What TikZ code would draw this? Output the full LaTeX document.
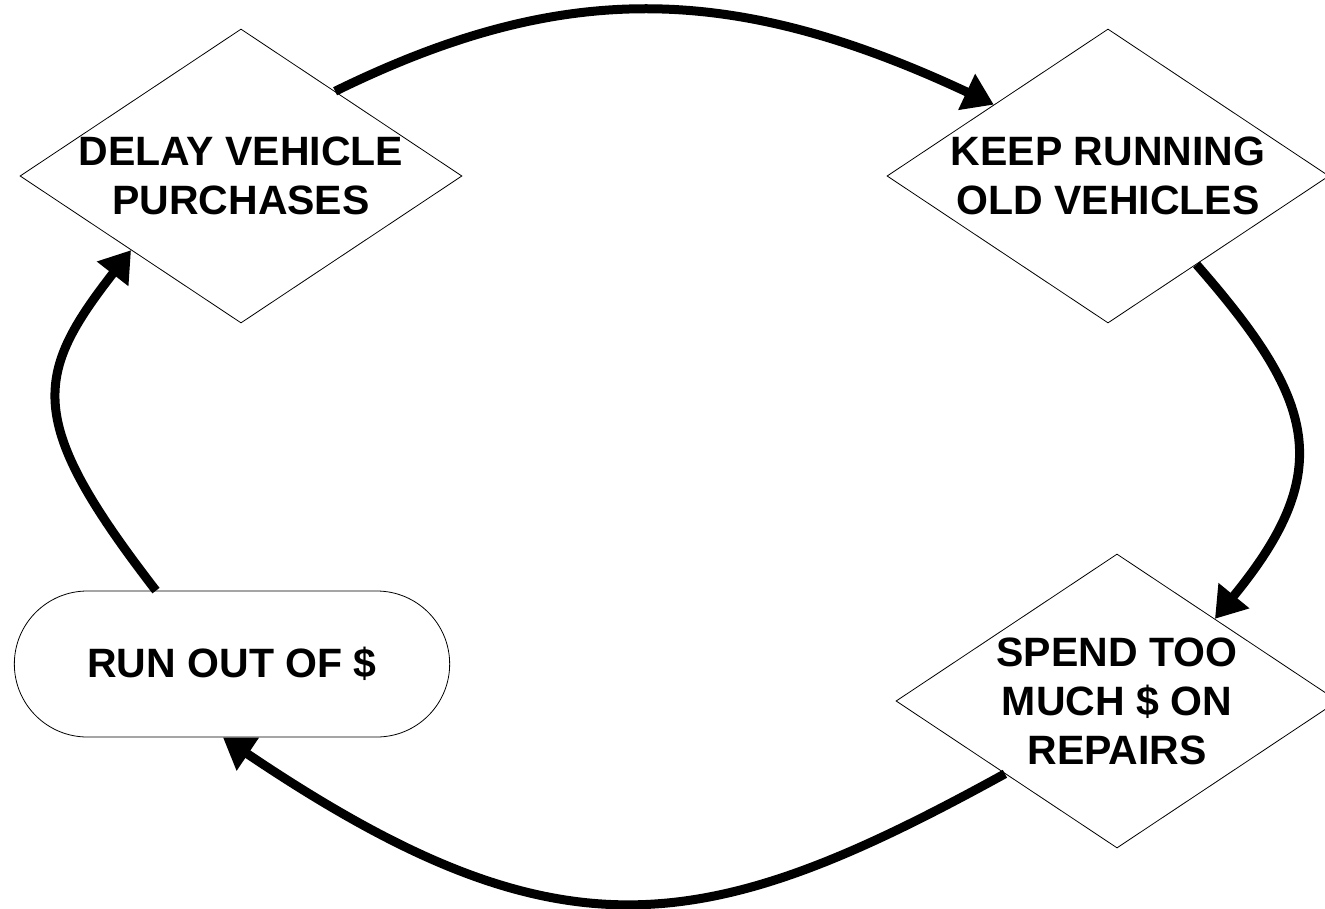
\documentclass[tikz,border=0pt]{standalone}
\usepackage{fontspec}
\setmainfont{Liberation Sans}
\usetikzlibrary{arrows.meta,shapes.geometric,shapes.misc}
\tikzset{
    %Define standard arrow tip
    >={Triangle[length=30pt,width=38pt]},
    %Define style for boxes
    decision/.style={
           diamond,
           draw=black, line width=0.8pt,
           minimum width=442pt,
           minimum height=294pt,
           inner sep=0pt},
    terminal/.style={
           rounded rectangle,
           draw=black, line width=0.8pt,
           minimum width=442pt,
           minimum height=146pt,
           font=\bfseries\fontsize{41}{49}\selectfont,
           text centered},
    caption/.style={
           font=\bfseries\fontsize{41}{49}\selectfont,
           align=center},
    % Define arrow style
    flow/.style={
           ->,
           line width=9pt}
}

\begin{document}
\begin{tikzpicture}[x=1pt,y=-1pt]
\useasboundingbox (0,0) rectangle (1325,908);
\node[decision, label={[caption]center:DELAY VEHICLE\\PURCHASES}] (delay) at (241,176) {};
\node[decision, label={[caption]center:KEEP RUNNING\\OLD VEHICLES}] (keep) at (1108,176) {};
\node[decision, label={[caption]center:SPEND TOO\\MUCH \$ ON\\REPAIRS}] (spend) at (1117,701) {};
\node[terminal] (runout) at (232,664) {RUN OUT OF \$};
\draw[flow] (delay.42) .. controls (560,-19) and (730,-19) .. (keep.148);
\draw[flow] (keep.-45) .. controls (1315,400) and (1337,470) .. (spend.40);
\draw[flow] (spend.213) .. controls (703,940) and (559,964) .. (runout.263);
\draw[flow] (runout.136) .. controls (25,421) and (33,376) .. (delay.214);
\end{tikzpicture}
\end{document}
